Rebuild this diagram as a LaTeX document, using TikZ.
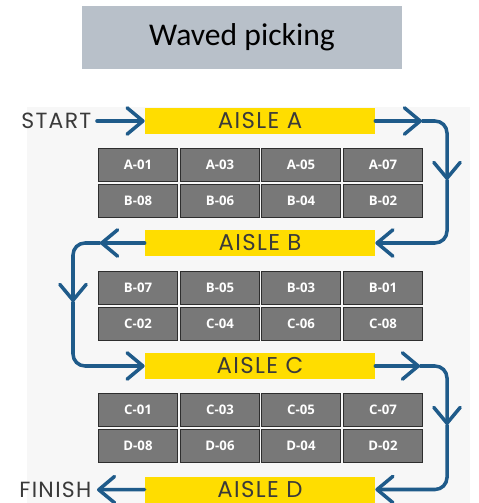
\documentclass[tikz,border=0pt]{standalone}
\usepackage{fontspec}
\setmainfont{Carlito}
\newfontfamily\aislefont[LetterSpace=6]{Poppins}
\newfontfamily\cellfont{Open Sans}
\usetikzlibrary{arrows.meta}
\definecolor{titlegray}{HTML}{B8C0C9}
\definecolor{aisleyellow}{HTML}{FFDD00}
\definecolor{flowblue}{HTML}{1F5B8A}
\definecolor{rackgray}{HTML}{787878}
\definecolor{rackedge}{HTML}{2E2E2E}
\definecolor{inkgray}{HTML}{3A3A3A}
\definecolor{floorgray}{HTML}{F7F7F7}

\begin{document}
\begin{tikzpicture}[
  x=0.02cm, y=-0.02cm,
  title/.style={fill=titlegray, minimum width=6.4cm, minimum height=1.26cm, inner sep=0pt, font=\fontsize{18}{20}\selectfont},
  aisle/.style={fill=aisleyellow, minimum width=4.6cm, minimum height=0.52cm, inner sep=0pt, text=inkgray, font=\aislefont\fontsize{13}{15}\selectfont},
  rack/.style={fill=rackgray, draw=rackedge, line width=0.9pt, minimum width=1.58cm, minimum height=0.66cm, inner sep=0pt, text=white, font=\cellfont\bfseries\fontsize{7.5}{9}\selectfont},
  lbl/.style={inner sep=3pt, text=inkgray, font=\aislefont\fontsize{12.5}{14}\selectfont},
  flow/.style={line width=2pt, draw=flowblue, line cap=round, rounded corners=0.24cm},
  >={Straight Barb[length=9pt, width=15pt, round]}
]
\useasboundingbox (0,0) rectangle (478,503);
\fill[floorgray] (27,107) rectangle (470,503);

% --- Title ---
\node[title] (head) at (242,37.5) {Waved picking};

% --- Aisles ---
\node[aisle] (aA) at (260,121) {AISLE A};
\node[aisle] (aB) at (260,243) {AISLE B};
\node[aisle] (aC) at (260,366) {AISLE C};
\node[aisle] (aD) at (260,489.5) {AISLE D};

\node[lbl, anchor=east] (start)  at (97,121) {START};
\node[lbl, anchor=east] (finish) at (97,490) {FINISH};

% --- Racks between A and B ---
\node[rack] (a01) at (138,165) {A-01};
\node[rack] (a03) at (220,165) {A-03};
\node[rack] (a05) at (301,165) {A-05};
\node[rack] (a07) at (383,165) {A-07};
\node[rack] (b08) at (138,201) {B-08};
\node[rack] (b06) at (220,201) {B-06};
\node[rack] (b04) at (301,201) {B-04};
\node[rack] (b02) at (383,201) {B-02};

% --- Racks between B and C ---
\node[rack] (b07) at (138,288) {B-07};
\node[rack] (b05) at (220,288) {B-05};
\node[rack] (b03) at (301,288) {B-03};
\node[rack] (b01) at (383,288) {B-01};
\node[rack] (c02) at (138,324) {C-02};
\node[rack] (c04) at (220,324) {C-04};
\node[rack] (c06) at (301,324) {C-06};
\node[rack] (c08) at (383,324) {C-08};

% --- Racks between C and D ---
\node[rack] (c01) at (138,410) {C-01};
\node[rack] (c03) at (220,410) {C-03};
\node[rack] (c05) at (301,410) {C-05};
\node[rack] (c07) at (383,410) {C-07};
\node[rack] (d08) at (138,446) {D-08};
\node[rack] (d06) at (220,446) {D-06};
\node[rack] (d04) at (301,446) {D-04};
\node[rack] (d02) at (383,446) {D-02};

% --- Turn points ---
\coordinate (ra) at (422,121);
\coordinate (da) at (447,180);
\coordinate (lb) at (100,243);
\coordinate (db) at (73,302);
\coordinate (rc) at (420,366);
\coordinate (dc) at (447,425);

% --- Route ---
\draw[flow,->] (start) -- (aA.west);
\draw[flow,->] (aA.east) -- (ra);
\draw[flow,->] (ra) -| (da);
\draw[flow,->] (da) |- (aB.east);
\draw[flow,->] (aB.west) -- (lb);
\draw[flow,->] (lb) -| (db);
\draw[flow,->] (db) |- (aC.west);
\draw[flow,->] (aC.east) -- (rc);
\draw[flow,->] (rc) -| (dc);
\draw[flow,->] (dc) |- (aD.east);
\draw[flow,->] (aD.west) -- (finish);

\end{tikzpicture}
\end{document}
